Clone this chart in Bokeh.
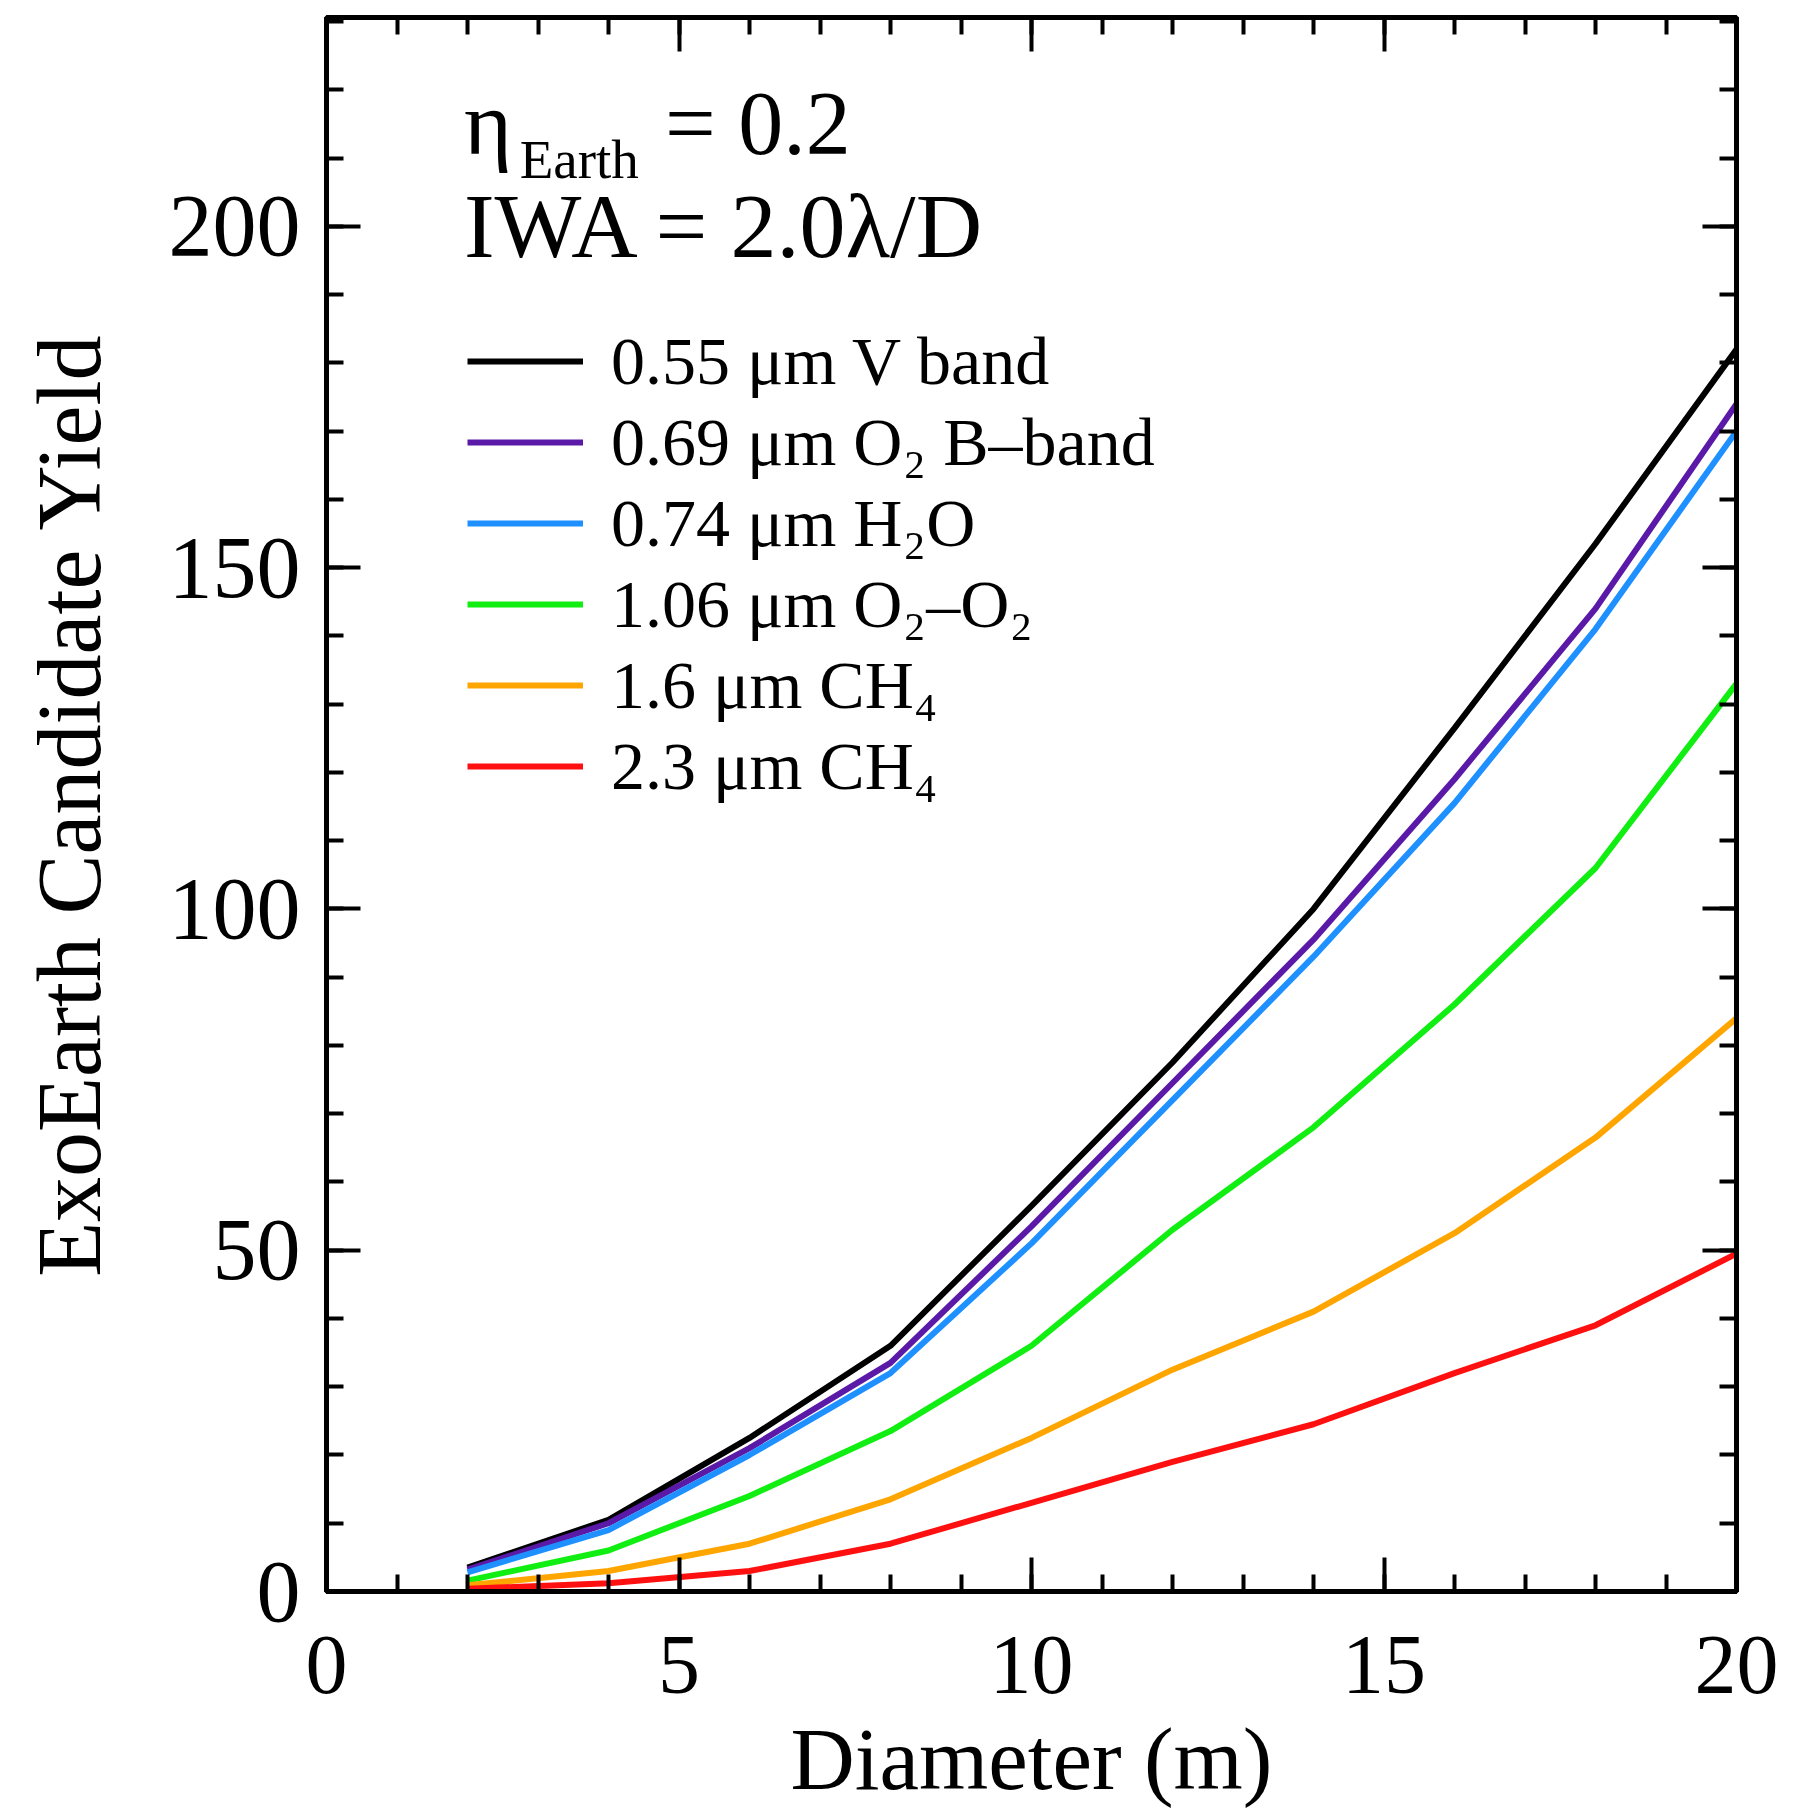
from bokeh.plotting import figure
from bokeh.models import (Range1d, FixedTicker, LinearAxis, Legend, LegendItem,
                          Label, CustomJSTickFormatter)
from bokeh.embed import file_html
from bokeh.resources import INLINE

# ---- data ----
diameter = [2, 4, 6, 8, 10, 12, 14, 16, 18, 20]
yield_v_band = [3.5, 10.5, 22.5, 36, 56.5, 77.5, 100, 126.5, 153.5, 182]
yield_o2_b = [3.2, 10, 21, 33.5, 53.5, 74.5, 95.5, 119, 144, 174]
yield_h2o = [2.8, 9, 20, 32, 51, 72, 93, 115.5, 141, 170]
yield_o2_o2 = [1.6, 6, 14, 23.5, 36, 53, 68, 86, 106, 133]
yield_ch4_16 = [0.9, 3, 7, 13.5, 22.5, 32.5, 41, 52.5, 66.5, 84]
yield_ch4_23 = [0.4, 1.2, 3, 7, 13, 19, 24.5, 32, 39, 49.5]

series_labels = ["0.55 μm V band", "0.69 μm O₂ B–band", "0.74 μm H₂O",
                 "1.06 μm O₂–O₂", "1.6 μm CH₄", "2.3 μm CH₄"]
series_values = [yield_v_band, yield_o2_b, yield_h2o, yield_o2_o2,
                 yield_ch4_16, yield_ch4_23]
series_colors = ["#000000", "#5B19A8", "#1E90FF", "#11EE11", "#FFA500", "#FF1010"]

x_major = [0, 5, 10, 15, 20]
x_minor = list(range(0, 21))
y_major = [0, 50, 100, 150, 200]
y_minor = list(range(0, 231, 10))

FONT = "Liberation Serif"

p = figure(frame_width=1410, frame_height=1574,
           x_range=Range1d(0, 20), y_range=Range1d(0, 230.6),
           output_backend="svg", toolbar_location=None,
           min_border_left=326, min_border_right=50,
           min_border_top=17, min_border_bottom=226)
p.background_fill_color = "white"
p.border_fill_color = "white"
p.outline_line_color = "black"
p.outline_line_width = 5
p.xgrid.visible = False
p.ygrid.visible = False

renderers = []
for vals, col in zip(series_values, series_colors):
    r = p.line(diameter, vals, line_color=col, line_width=6)
    renderers.append(r)

def style_axis(ax, major, minor, tick_size):
    ax.ticker = FixedTicker(ticks=major, minor_ticks=minor)
    ax.axis_line_color = "black"
    ax.axis_line_width = 5
    ax.major_tick_in = 34
    ax.major_tick_out = 0
    ax.minor_tick_in = 17
    ax.minor_tick_out = 0
    ax.major_tick_line_width = 4
    ax.minor_tick_line_width = 4
    ax.major_tick_line_color = "black"
    ax.minor_tick_line_color = "black"
    ax.major_label_text_font = FONT
    ax.major_label_text_font_size = tick_size
    ax.major_label_text_color = "black"
    ax.axis_label_text_font = FONT
    ax.axis_label_text_font_style = "normal"
    ax.axis_label_text_font_size = "89px"
    ax.axis_label_text_color = "black"

xa = p.xaxis[0]
style_axis(xa, x_major, x_minor, "84px")
xa.axis_label = "Diameter (m)"
xa.major_label_standoff = 45
xa.axis_label_standoff = 14

ya = p.yaxis[0]
style_axis(ya, y_major, y_minor, "88px")
ya.axis_label = "ExoEarth Candidate Yield"
ya.axis_label_text_font_size = "90px"
ya.major_label_standoff = 26
ya.axis_label_standoff = 47

blank = CustomJSTickFormatter(code="return ''")
top = LinearAxis()
style_axis(top, x_major, x_minor, "84px")
top.formatter = blank
top.major_label_standoff = 0
p.add_layout(top, "above")
right = LinearAxis()
style_axis(right, y_major, y_minor, "88px")
right.formatter = blank
right.major_label_standoff = 0
p.add_layout(right, "right")

legend = Legend(items=[LegendItem(label=l, renderers=[r]) for l, r in zip(series_labels, renderers)],
                location=(141, 785))
legend.label_text_font = FONT
legend.label_text_font_size = "68px"
legend.label_text_color = "black"
legend.glyph_width = 116
legend.glyph_height = 80
legend.label_height = 80
legend.label_standoff = 28
legend.spacing = 1
legend.padding = 0
legend.margin = 0
legend.border_line_color = None
legend.background_fill_alpha = 0
p.add_layout(legend, "center")

def add_text(x, y, text, size):
    p.add_layout(Label(x=x, y=y, text=text, text_font=FONT, text_font_size=size,
                       text_color="black", text_baseline="alphabetic", text_align="left"))

add_text(1.95, 215.1, "η", "92px")
add_text(2.74, 209.8, "Earth", "55px")
add_text(4.80, 215.1, "= 0.2", "90px")
add_text(1.95, 200.0, "IWA = 2.0λ/D", "92px")

open("out.html", "w").write(file_html(p, INLINE))
